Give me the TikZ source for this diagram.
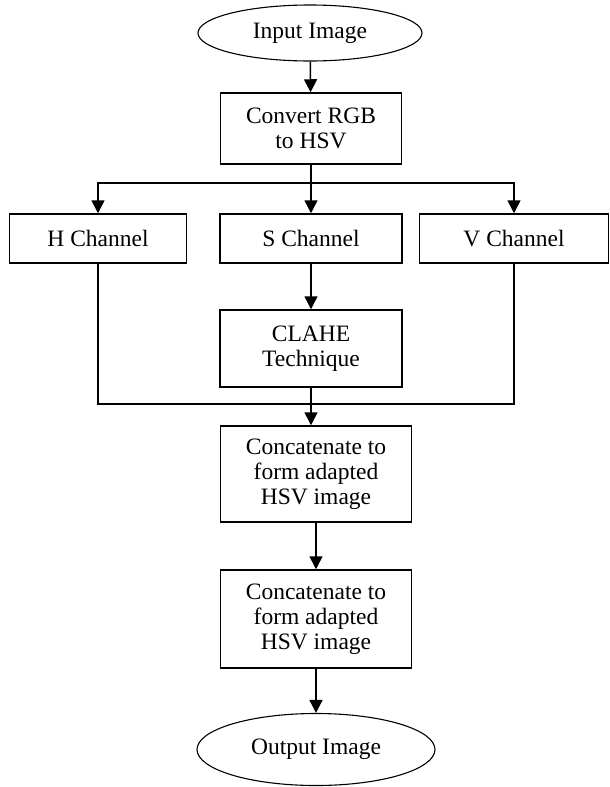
\documentclass[tikz,border=0pt]{standalone}
\usepackage{fontspec}
\setmainfont{Liberation Serif}
\usetikzlibrary{shapes.geometric}
\usetikzlibrary{arrows.meta}
\tikzset{
    procbox/.style = {rectangle, draw=black, align=center, fill=white, inner sep=2pt},
    termnode/.style = {ellipse, draw=black, align=center, fill=white, inner sep=0pt, line width=1.1pt},
    flow/.style = {-{Triangle[width=13pt,length=13pt]}},
    wire/.style = {-},
}
\begin{document}
\begin{tikzpicture}[
	x=1pt, y=-1pt,
	line width=1.5pt,
	font=\fontsize{23.5}{25}\selectfont
]
\useasboundingbox (0,0) rectangle (610,787);
\node[termnode, minimum width=224pt, minimum height=56pt] at (310,33) (inimg) {Input Image};
\node[procbox, minimum width=181pt, minimum height=71pt] at (311,128.5) (rgb) {Convert RGB\\to HSV};
\node[procbox, minimum width=177pt, minimum height=49pt] at (98,238.5) (hch) {H Channel};
\node[procbox, minimum width=182pt, minimum height=49pt] at (311,238.5) (sch) {S Channel};
\node[procbox, minimum width=189pt, minimum height=49pt] at (514,238.5) (vch) {V Channel};
\node[procbox, minimum width=182pt, minimum height=77pt] at (311,348.5) (clahe) {CLAHE\\Technique};
\node[procbox, minimum width=191pt, minimum height=96pt] at (316,474) (cat1) {Concatenate to\\form adapted\\HSV image};
\node[procbox, minimum width=191pt, minimum height=98pt] at (316,619) (cat2) {Concatenate to\\form adapted\\HSV image};
\node[termnode, minimum width=238pt, minimum height=72pt] at (316,749.5) (outimg) {Output Image};
\coordinate (split) at (311,183);
\coordinate (join) at (311,404);
%
\draw[flow] (inimg) -- (rgb);
\draw[wire] (rgb) -- (split);
\draw[flow] (split) -| (hch);
\draw[flow] (split) -- (sch);
\draw[flow] (split) -| (vch);
%
\draw[flow] (sch) -- (clahe);
\draw[wire] (hch) |- (join) -| (vch);
\draw[wire] (clahe) -- (join);
\draw[flow] (join) -- (cat1.north -| join);
%
\draw[flow] (cat1) -- (cat2);
\draw[flow] (cat2) -- (outimg);
\end{tikzpicture}
\end{document}
